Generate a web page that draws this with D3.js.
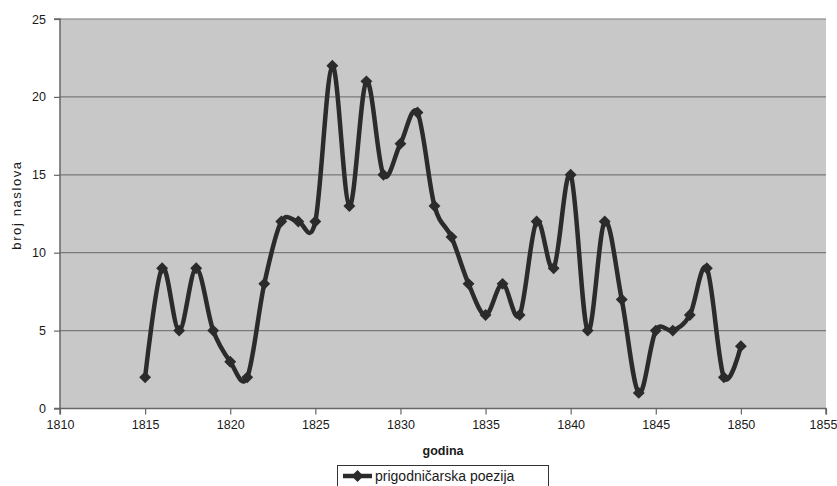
<!DOCTYPE html>
<html><head><meta charset="utf-8">
<script src="https://cdn.jsdelivr.net/npm/d3@7"></script>
<style>
body{margin:0;background:#fff;}
text{font-family:"Liberation Sans",Arial,sans-serif;fill:#1a1a1a;}
</style></head><body>
<svg id="c" width="837" height="486"></svg>
<script>
const years = [1815,1816,1817,1818,1819,1820,1821,1822,1823,1824,1825,1826,1827,1828,1829,1830,1831,1832,1833,1834,1835,1836,1837,1838,1839,1840,1841,1842,1843,1844,1845,1846,1847,1848,1849,1850];
const values = [2,9,5,9,5,3,2,8,12,12,12,22,13,21,15,17,19,13,11,8,6,8,6,12,9,15,5,12,7,1,5,5,6,9,2,4];
const xTicks = [1810,1815,1820,1825,1830,1835,1840,1845,1850,1855];
const yTicks = [0,5,10,15,20,25];
const seriesName = "prigodničarska poezija";
const xTitle = "godina";
const yTitle = "broj naslova";

const svg = d3.select("#c");
const L=60, R=826, T=19, B=408.5;
const x = d3.scaleLinear().domain([1810,1855]).range([L,R]);
const y = d3.scaleLinear().domain([0,25]).range([B,T]);

svg.append("rect").attr("x",L).attr("y",T).attr("width",R-L).attr("height",B-T).attr("fill","#c8c8c8");

// gridlines
svg.append("g").selectAll("line").data(yTicks.filter(d=>d>0)).join("line")
  .attr("x1",L).attr("x2",R).attr("y1",d=>y(d)).attr("y2",d=>y(d))
  .attr("stroke","#7a7a7a").attr("stroke-width",1.2);

// axes
const xa = svg.append("g").attr("transform",`translate(0,${B})`)
  .call(d3.axisBottom(x).tickValues(xTicks).tickFormat(d3.format("d")).tickSize(6).tickPadding(6));
const ya = svg.append("g").attr("transform",`translate(${L},0)`)
  .call(d3.axisLeft(y).tickValues(yTicks).tickSize(6).tickPadding(8));
[xa,ya].forEach(a=>{
  a.select(".domain").attr("stroke","#666").attr("stroke-width",1.5);
  a.selectAll(".tick line").attr("stroke","#666").attr("stroke-width",1.2);
  a.selectAll("text").attr("font-size",12.5).attr("fill","#1a1a1a").style("font-family","Liberation Sans, Arial, sans-serif");
});
xa.selectAll(".tick text").filter(d=>d===1855).attr("dx",-3);
ya.select(".domain").attr("d",`M-6,${B}H0V${T}H-6`);
xa.select(".domain").attr("d",`M${L},6V0H${R}V6`);

// series
const pts = years.map((d,i)=>[x(d),y(values[i])]);
const line = d3.line().curve(d3.curveCardinal.tension(0));
svg.append("path").attr("d",line(pts)).attr("fill","none")
  .attr("stroke","#2b2b2b").attr("stroke-width",4.5).attr("stroke-linejoin","round");
const sym = d3.symbol().type(d3.symbolDiamond2).size(90);
svg.append("g").selectAll("path").data(pts).join("path")
  .attr("transform",d=>`translate(${d[0]},${d[1]})`).attr("d",sym).attr("fill","#2b2b2b");

// titles
svg.append("text").attr("x",443).attr("y",455).attr("text-anchor","middle")
  .attr("font-size",12.5).attr("font-weight","bold").text(xTitle);
svg.append("text").attr("transform",`translate(21,205) rotate(-90)`).attr("text-anchor","middle")
  .attr("font-size",13).attr("letter-spacing",1.6).text(yTitle);

// legend
const lg = svg.append("g");
lg.append("rect").attr("x",337.5).attr("y",465.5).attr("width",211).attr("height",30)
  .attr("fill","#fff").attr("stroke","#333").attr("stroke-width",1);
lg.append("line").attr("x1",343).attr("x2",372).attr("y1",476).attr("y2",476)
  .attr("stroke","#2b2b2b").attr("stroke-width",4.5);
lg.append("path").attr("transform","translate(357.5,476)").attr("d",sym).attr("fill","#2b2b2b");
lg.append("text").attr("x",375).attr("y",481).attr("font-size",14).text(seriesName);
</script></body></html>
